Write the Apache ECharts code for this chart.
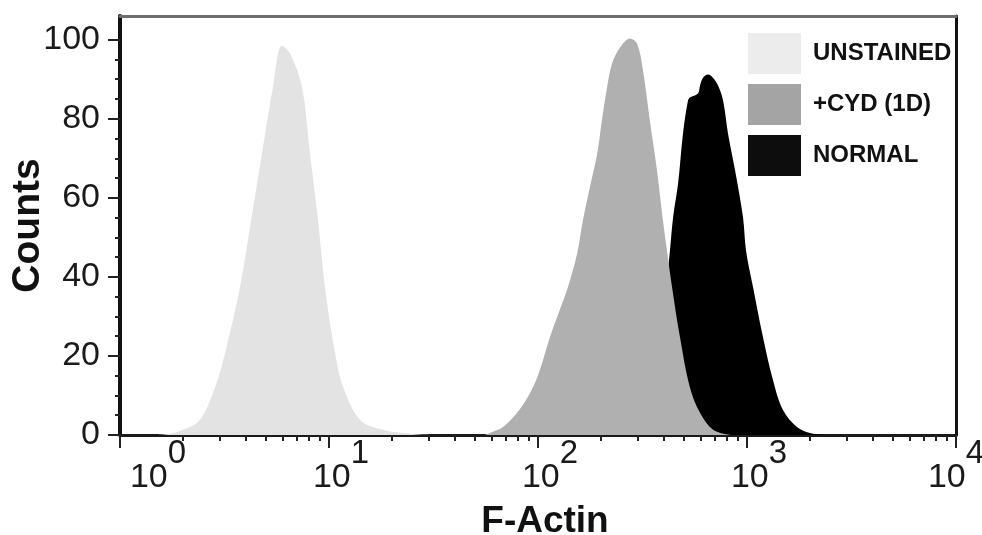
<!DOCTYPE html>
<html>
<head>
<meta charset="utf-8">
<script src="https://cdn.jsdelivr.net/npm/echarts@6/dist/echarts.min.js"></script>
<style>
  html, body { margin: 0; padding: 0; background: #fff; }
  #main { width: 982px; height: 535px; }
</style>
</head>
<body>
<div id="main"></div>
<script>
// F-Actin intensity (log axis) vs counts
var unstainedX = [1.5, 1.73, 2.0, 2.41, 2.85, 3.18, 3.75, 4.24, 4.78, 5.39, 5.96, 6.51, 7.43, 8.11, 8.86, 9.57, 10.7, 11.7, 14.1, 18.1, 24.4, 30.4];
var unstainedY = [0, 0.3, 1.3, 3.8, 12.1, 20.7, 37.4, 54.3, 71.2, 87.9, 98.5, 96.5, 87.9, 71.2, 54.3, 37.4, 20.7, 12.1, 3.8, 1.3, 0.3, 0];

var cydX = [55.7, 58.9, 68.0, 79.4, 91.6, 102, 114, 127, 139, 154, 164, 177, 192, 202, 214, 226, 247, 275, 298, 318, 343, 371, 396, 414, 438, 478, 533, 596, 688, 829];
var cydY = [0, 0.5, 2.0, 5.6, 10.6, 16.4, 24.7, 31.6, 37.4, 46.0, 54.3, 62.6, 71.2, 79.5, 87.9, 93.9, 98.0, 100.3, 99.0, 92.2, 79.5, 66.9, 54.3, 46.7, 37.4, 24.7, 12.1, 5.6, 1.3, 0];

var normalX = [363, 384, 405, 428, 443, 468, 494, 522, 533, 583, 596, 616, 651, 687, 727, 768, 811, 877, 957, 989, 1069, 1193, 1331, 1487, 1734, 2001, 2361];
var normalY = [0, 13.9, 34.1, 46.7, 55.1, 63.6, 76.3, 84.6, 85.4, 86.4, 88.4, 90.4, 91.2, 90.4, 88.4, 84.6, 76.3, 66.9, 55.1, 46.7, 37.4, 24.7, 13.9, 6.3, 2.0, 0.5, 0];

var legendNames = ['UNSTAINED', '+CYD (1D)', 'NORMAL'];
var xMajor = [1, 10, 100, 1000, 10000];
var yMajor = [0, 20, 40, 60, 80, 100];

var xMinor = [];
for (var d = 1; d < 10000; d *= 10) {
  for (var k = 2; k <= 9; k++) xMinor.push(k * d);
}
var yMinor = [];
for (var v = 5; v < 100; v += 5) {
  if (v % 20 !== 0) yMinor.push(v);
}

function pairs(xs, ys) {
  return xs.map(function (x, i) { return [x, ys[i]]; });
}

var font = "'Liberation Sans', Arial, sans-serif";

function areaSeries(name, xs, ys, color) {
  return {
    name: name,
    type: 'line',
    data: pairs(xs, ys),
    smooth: 0.35,
    showSymbol: false,
    lineStyle: { width: 0, color: color },
    itemStyle: { color: color },
    areaStyle: { color: color, opacity: 1 }
  };
}

var myChart = echarts.init(document.getElementById('main'), null, { renderer: 'canvas' });

var option = {
  animation: false,
  textStyle: { fontFamily: font },
  grid: { left: 120, right: 26, top: 16, bottom: 100, outerBoundsMode: 'none' },
  legend: {
    orient: 'vertical',
    left: 748,
    top: 33,
    padding: 0,
    icon: 'rect',
    itemWidth: 53,
    itemHeight: 41,
    itemGap: 10,
    textStyle: { fontFamily: font, fontSize: 24, fontWeight: 'bold', color: '#111', padding: [0, 0, 0, 7] },
    data: [
      { name: legendNames[0], itemStyle: { color: '#ececec' } },
      { name: legendNames[1], itemStyle: { color: '#a4a4a4' } },
      { name: legendNames[2], itemStyle: { color: '#0d0d0d' } }
    ]
  },
  xAxis: [
    {
      type: 'log', logBase: 10, min: 1, max: 10000, position: 'bottom',
      name: 'F-Actin', nameLocation: 'middle', nameGap: 68, nameMoveOverlap: false,
      nameTextStyle: { fontFamily: font, fontSize: 37, fontWeight: 'bold', color: '#111', padding: [0, 0, 0, 14] },
      axisLine: { onZero: false, lineStyle: { color: '#1a1a1a', width: 3 } },
      axisTick: { customValues: xMajor, length: 13, lineStyle: { color: '#222', width: 2 } },
      axisLabel: {
        customValues: xMajor,
        margin: 14,
        formatter: function (val) {
          var n = Math.round(Math.log10(val));
          var b = n === 0 ? 'b0' : (n === 4 ? 'b4' : 'b');
          return '{' + b + '|10}{e|' + n + '}';
        },
        rich: {
          b: { fontFamily: font, fontSize: 34, lineHeight: 34, color: '#1a1a1a', padding: [24, 0, 0, 24] },
          b0: { fontFamily: font, fontSize: 34, lineHeight: 34, color: '#1a1a1a', padding: [24, 0, 0, 76] },
          b4: { fontFamily: font, fontSize: 34, lineHeight: 34, color: '#1a1a1a', padding: [24, 0, 0, 0] },
          e: { fontFamily: font, fontSize: 33, lineHeight: 33, color: '#1a1a1a', padding: [0, 0, 25, 0] }
        }
      },
      splitLine: { show: false }
    },
    {
      type: 'log', logBase: 10, min: 1, max: 10000, position: 'bottom',
      axisLine: { show: false, onZero: false },
      axisTick: { customValues: xMinor, length: 6, lineStyle: { color: '#222', width: 2 } },
      axisLabel: { show: false },
      splitLine: { show: false }
    },
    {
      type: 'log', logBase: 10, min: 1, max: 10000, position: 'top',
      axisLine: { show: true, onZero: false, lineStyle: { color: '#6e6e6e', width: 3 } },
      axisTick: { show: false },
      axisLabel: { show: false },
      splitLine: { show: false }
    }
  ],
  yAxis: [
    {
      type: 'value', min: 0, max: 106, position: 'left',
      name: 'Counts', nameLocation: 'middle', nameGap: 72, nameMoveOverlap: false,
      nameTextStyle: { fontFamily: font, fontSize: 39, fontWeight: 'bold', color: '#111' },
      axisLine: { show: true, onZero: false, lineStyle: { color: '#111', width: 4 } },
      axisTick: { show: true, customValues: yMajor, length: 12, lineStyle: { color: '#222', width: 2 } },
      axisLabel: { customValues: yMajor, margin: 20, fontFamily: font, fontSize: 34, color: '#1a1a1a' },
      splitLine: { show: false }
    },
    {
      type: 'value', min: 0, max: 106, position: 'left',
      axisLine: { show: false, onZero: false },
      axisTick: { show: true, customValues: yMinor, length: 5, lineStyle: { color: '#222', width: 2 } },
      axisLabel: { show: false },
      splitLine: { show: false }
    },
    {
      type: 'value', min: 0, max: 106, position: 'right',
      axisLine: { show: true, onZero: false, lineStyle: { color: '#111', width: 3 } },
      axisTick: { show: false },
      axisLabel: { show: false },
      splitLine: { show: false }
    }
  ],
  series: [
    areaSeries(legendNames[0], unstainedX, unstainedY, '#e3e3e3'),
    areaSeries(legendNames[2], normalX, normalY, '#000000'),
    areaSeries(legendNames[1], cydX, cydY, '#b0b0b0')
  ]
};

myChart.setOption(option);
window.addEventListener('resize', function () {
  myChart.resize();
});
</script>
</body>
</html>
